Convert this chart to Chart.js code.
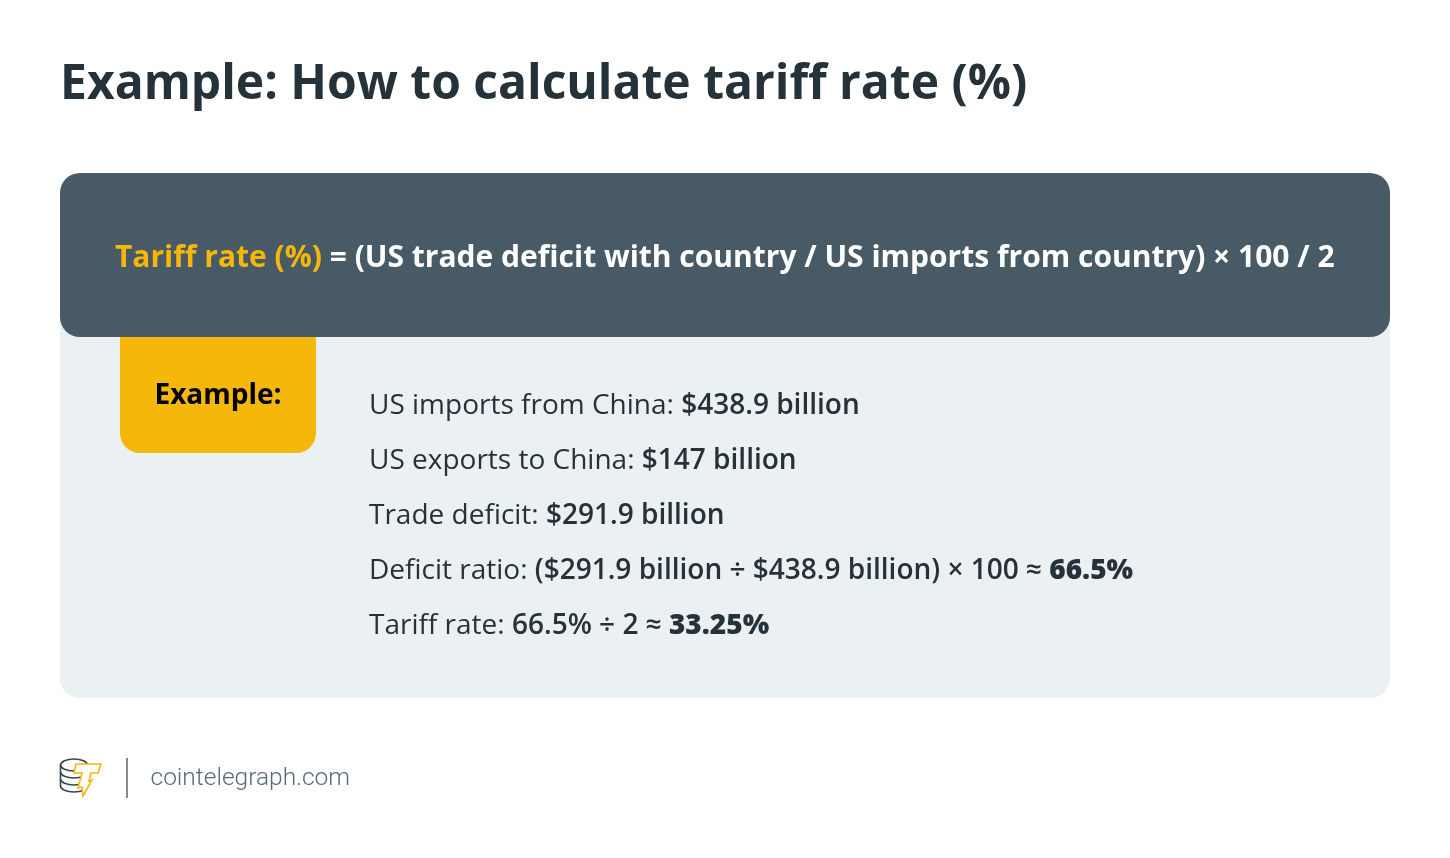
<!DOCTYPE html>
<html>
<head>
<meta charset="utf-8">
<title>Example: How to calculate tariff rate (%)</title>
<script src="https://cdn.jsdelivr.net/npm/chart.js@4/dist/chart.umd.min.js"></script>
<style>
  html, body { margin: 0; padding: 0; background: #fff; }
  canvas { display: block; }
</style>
</head>
<body>
<canvas id="tariffChart" width="1450" height="858"></canvas>
<script>
// Values
const categories = ['US imports from China', 'US exports to China', 'Trade deficit', 'Deficit ratio', 'Tariff rate'];
const values = [438.9, 147, 291.9, 66.5, 33.25];
const titleText = 'Example: How to calculate tariff rate (%)';
const formulaHead = 'Tariff rate (%)';
const formulaBody = ' = (US trade deficit with country / US imports from country) × 100 / 2';
const tagText = 'Example:';
const siteText = 'cointelegraph.com';

const DARK = '#26323a';
const FONT = '"Open Sans"';

// Each row is a list of [text, weight] pieces, written after its category label
const rowPieces = [
    [['$' + values[0] + ' billion', 600]],
    [['$' + values[1] + ' billion', 600]],
    [['$' + values[2] + ' billion', 600]],
    [['($' + values[2] + ' billion ÷ $' + values[0] + ' billion) × 100 ≈ ', 600], [values[3] + '%', 800]],
    [[values[3] + '% ÷ 2 ≈ ', 600], [values[4] + '%', 800]]
];

// Draw a run of pieces on one baseline, left to right
const drawPieces = (ctx, pieces, x, y, size, color) => {
    pieces.forEach(([text, weight, pieceColor]) => {
        ctx.font = weight + ' ' + size + 'px ' + FONT;
        ctx.fillStyle = pieceColor || color;
        ctx.fillText(text, x, y);
        x += ctx.measureText(text).width;
    });
};

const box = (ctx, x, y, w, h, radius, color) => {
    ctx.fillStyle = color;
    ctx.beginPath();
    ctx.roundRect(x, y, w, h, radius);
    ctx.fill();
};

// Coin stack and lightning mark next to the site name
const drawLogo = (ctx) => {
    ctx.lineWidth = 1.6;
    ctx.strokeStyle = '#37474f';
    ctx.beginPath();
    ctx.ellipse(74, 765, 13.5, 6, 0, 0, Math.PI * 2);
    ctx.stroke();
    [772, 779, 786].forEach((y) => {
        ctx.beginPath();
        ctx.ellipse(74, y, 13.5, 6, 0, 0, Math.PI);
        ctx.stroke();
    });
    ctx.beginPath();
    ctx.moveTo(60.5, 765);
    ctx.lineTo(60.5, 786);
    ctx.moveTo(87.5, 765);
    ctx.lineTo(87.5, 786);
    ctx.stroke();
    ctx.fillStyle = '#fff';
    ctx.strokeStyle = '#f5b70a';
    ctx.beginPath();
    ctx.moveTo(76, 764);
    ctx.lineTo(101, 764);
    ctx.lineTo(98, 773);
    ctx.lineTo(91, 773);
    ctx.lineTo(89, 781);
    ctx.lineTo(92, 780);
    ctx.lineTo(83, 796);
    ctx.lineTo(82, 787);
    ctx.lineTo(78, 788);
    ctx.lineTo(82, 773);
    ctx.lineTo(74, 773);
    ctx.closePath();
    ctx.fill();
    ctx.stroke();
};

// Panels, headline and footer sit behind the rows
const cardPlugin = {
    id: 'card',
    beforeDraw(chart) {
        const ctx = chart.ctx;
        ctx.save();
        ctx.textBaseline = 'alphabetic';
        ctx.textAlign = 'left';

        drawPieces(ctx, [[titleText, 700]], 60, 99, 48, DARK);

        box(ctx, 60, 300, 1330, 398, 20, '#ebf0f3');
        box(ctx, 120, 320, 196, 133, 20, '#f5b70a');
        box(ctx, 60, 173, 1330, 164, 20, '#475a65');

        drawPieces(ctx, [[formulaHead, 700, '#f5b70a'], [formulaBody, 700, '#fff']], 115, 267, 30, '#fff');

        ctx.textAlign = 'center';
        ctx.font = '700 28px ' + FONT;
        ctx.fillStyle = '#000';
        ctx.fillText(tagText, 218, 404);
        ctx.textAlign = 'left';

        drawLogo(ctx);
        ctx.fillStyle = '#888';
        ctx.fillRect(126, 758, 2, 40);
        ctx.font = '300 24.5px Roboto';
        ctx.fillStyle = '#566b78';
        ctx.fillText(siteText, 150.5, 785);
        ctx.restore();
    },
    afterDraw(chart) {
        // Rows take their height from the category scale
        const ctx = chart.ctx;
        const yScale = chart.scales.y;
        ctx.save();
        ctx.textBaseline = 'alphabetic';
        ctx.textAlign = 'left';
        categories.forEach((label, i) => {
            const pieces = [[label + ': ', 400]].concat(rowPieces[i]);
            drawPieces(ctx, pieces, chart.chartArea.left, yScale.getPixelForValue(i) + 10, 28, DARK);
        });
        ctx.restore();
    }
};

new Chart(document.getElementById('tariffChart').getContext('2d'), {
    type: 'bar',
    data: {
        labels: categories,
        datasets: [{
            label: 'Tariff example',
            data: values,
            backgroundColor: 'rgba(0, 0, 0, 0)'
        }]
    },
    plugins: [cardPlugin],
    options: {
        indexAxis: 'y',
        responsive: false,
        animation: false,
        layout: {
            padding: { left: 369, right: 80, top: 376.5, bottom: 206.5 }
        },
        plugins: {
            legend: { display: false },
            title: { display: false },
            tooltip: { enabled: false }
        },
        scales: {
            x: { display: false, min: 0 },
            y: { display: false }
        }
    }
});
</script>
</body>
</html>
